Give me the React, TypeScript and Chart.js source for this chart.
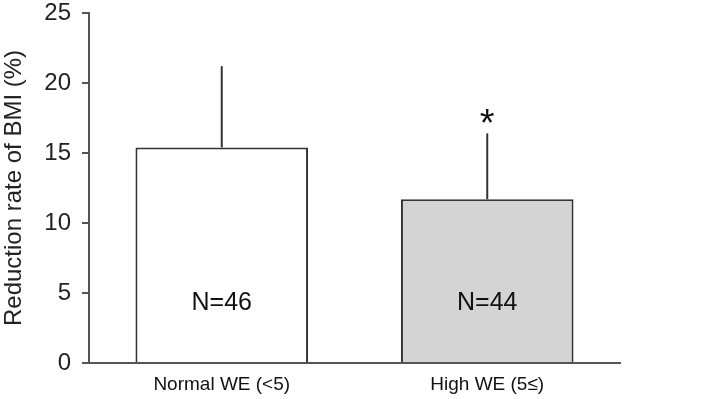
import React, { useEffect, useRef } from "react";
import { Chart, registerables } from "chart.js";

Chart.register(...registerables);

const categories = ["Normal WE (<5)", "High WE (5≤)"];
const meanValues = [15.4, 11.7];
const sdValues = [5.8, 4.7];
const sampleLabels = ["N=46", "N=44"];
const significance = ["", "*"];
const yTicks = [0, 5, 10, 15, 20, 25];
const sampleLabelValue = 4.3;

const FONT = "'Liberation Sans', Arial, Helvetica, sans-serif";

const annotPlugin = {
  id: "annot",
  afterDatasetsDraw(chart: any) {
    const ctx = chart.ctx;
    const xs = chart.scales.x;
    const ys = chart.scales.y;
    ctx.save();
    for (let i = 0; i < meanValues.length; i++) {
      const x = xs.getPixelForValue(i);
      const y0 = ys.getPixelForValue(meanValues[i]);
      const y1 = ys.getPixelForValue(meanValues[i] + sdValues[i]);
      ctx.strokeStyle = "#333";
      ctx.lineWidth = 2;
      ctx.beginPath();
      ctx.moveTo(x, y0);
      ctx.lineTo(x, y1);
      ctx.stroke();
      ctx.fillStyle = "#111";
      ctx.textAlign = "center";
      ctx.textBaseline = "middle";
      ctx.font = `25px ${FONT}`;
      ctx.fillText(sampleLabels[i], x, ys.getPixelForValue(sampleLabelValue));
      if (significance[i]) {
        ctx.font = `38px ${FONT}`;
        ctx.fillText(significance[i], x, y1 - 8);
      }
    }
    ctx.restore();
  },
};

export default function App() {
  const ref = useRef<HTMLCanvasElement>(null);
  useEffect(() => {
    if (!ref.current) return;
    const chart = new Chart(ref.current, {
      type: "bar",
      data: {
        labels: categories,
        datasets: [
          {
            data: meanValues,
            backgroundColor: ["#ffffff", "#d4d4d4"],
            borderColor: "#333",
            borderWidth: 2,
            borderSkipped: "bottom",
            categoryPercentage: 1,
            barPercentage: 0.65,
          },
        ],
      },
      options: {
        responsive: false,
        animation: false,
        layout: { padding: { left: 0, right: 92, top: 13, bottom: 0 } },
        plugins: { legend: { display: false }, tooltip: { enabled: false } },
        scales: {
          x: {
            grid: { display: false, drawTicks: false },
            border: { display: true, color: "#555", width: 2 },
            ticks: { color: "#111", font: { family: FONT, size: 19 }, padding: 10 },
            afterFit(scale: any) {
              scale.height = 36;
              scale.paddingLeft = 0;
              scale.paddingRight = 0;
            },
          },
          y: {
            min: 0,
            max: 25,
            afterBuildTicks(scale: any) {
              scale.ticks = yTicks.map((v) => ({ value: v }));
            },
            grid: { drawOnChartArea: false, drawTicks: true, tickLength: 7, color: "#555", lineWidth: 2 },
            border: { display: true, color: "#555", width: 2 },
            ticks: { color: "#222", font: { family: FONT, size: 24 }, padding: 11 },
            title: {
              display: true,
              text: "Reduction rate of BMI (%)",
              color: "#222",
              font: { family: FONT, size: 24 },
              padding: { top: 0, bottom: 0 },
            },
            afterFit(scale: any) {
              scale.width = 89;
              scale.paddingTop = 0;
              scale.paddingBottom = 0;
            },
          },
        },
      },
      plugins: [annotPlugin],
    });
    return () => chart.destroy();
  }, []);
  return (
    <div style={{ position: "absolute", left: 0, top: 0, width: 712, height: 399, background: "#fff" }}>
      <canvas ref={ref} width={712} height={399} />
    </div>
  );
}
